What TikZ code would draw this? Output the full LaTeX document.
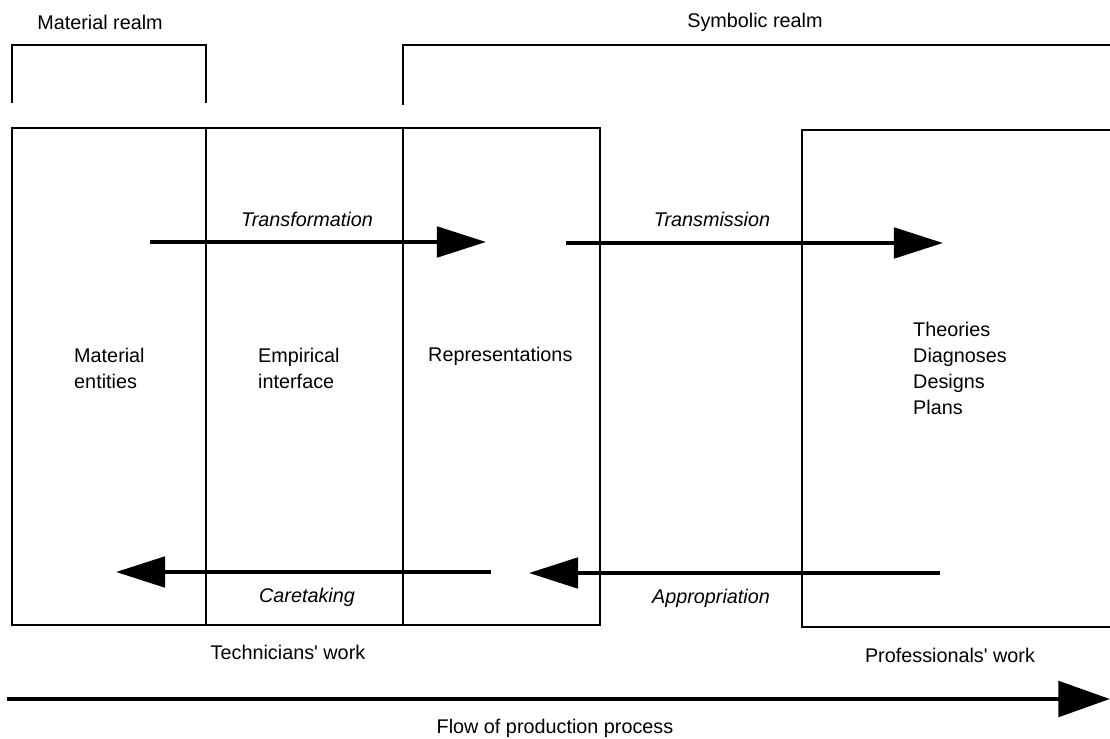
\documentclass[tikz,border=0pt]{standalone}
\usepackage{fontspec}
\setmainfont{Liberation Sans}
\usetikzlibrary{arrows.meta}
\begin{document}
\begin{tikzpicture}[x=0.03cm,y=-0.03cm,
  frame/.style={line width=1.7pt},
  bigarrow/.style={line width=3.4pt,-{Triangle[length=42pt,width=26pt]}},
  flowarrow/.style={line width=4.2pt,-{Triangle[length=44pt,width=30pt]}},
  lbl/.style={inner sep=0pt,font=\fontsize{16.9}{22.2}\selectfont},
  ilbl/.style={lbl,font=\fontsize{16.9}{22.2}\selectfont\itshape}]
\useasboundingbox (0,0) rectangle (1110,739);
% realm brackets
\draw[frame] (12,103) -- (12,45) -- (206,45) -- (206,103);
\draw[frame] (403,105) -- (403,45) -- (1110,45);
\node[lbl] (mr) at (100,22) {Material realm};
\node[lbl] (sr) at (755,22) {Symbolic realm};
% technicians box
\draw[frame] (12,128) rectangle (600,625);
\draw[frame] (206,128) -- (206,625);
\draw[frame] (403,128) -- (403,625);
% professionals box
\draw[frame] (1110,130) -- (802,130) -- (802,627) -- (1110,627);
% labels inside
\node[lbl,anchor=west,align=left] (me) at (74,368) {Material\\entities};
\node[lbl,anchor=west,align=left] (ei) at (258,368) {Empirical\\interface};
\node[lbl,anchor=west] (rep) at (428,356) {Representations};
\node[lbl,anchor=west,align=left] (th) at (913,368) {Theories\\Diagnoses\\Designs\\Plans};
% arrow endpoints
\coordinate (t1) at (150,242); \coordinate (t2) at (486,242);
\coordinate (s1) at (566,243); \coordinate (s2) at (943,243);
\coordinate (c1) at (491,572); \coordinate (c2) at (116,572);
\coordinate (a1) at (940,573); \coordinate (a2) at (529,573);
\coordinate (f1) at (7,699); \coordinate (f2) at (1110,699);
\draw[bigarrow] (t1) -- (t2);
\draw[bigarrow] (s1) -- (s2);
\draw[bigarrow] (c1) -- (c2);
\draw[bigarrow] (a1) -- (a2);
\draw[flowarrow] (f1) -- (f2);
\node[ilbl] (tf) at (307,219) {Transformation};
\node[ilbl] (tm) at (712,219) {Transmission};
\node[ilbl] (ct) at (307,597) {Caretaking};
\node[ilbl] (ap) at (711,598) {Appropriation};
\node[lbl] (tw) at (288,652) {Technicians\textquotesingle\ work};
\node[lbl] (pw) at (950,655) {Professionals\textquotesingle\ work};
\node[lbl] (fl) at (555,728) {Flow of production process};
\end{tikzpicture}
\end{document}
